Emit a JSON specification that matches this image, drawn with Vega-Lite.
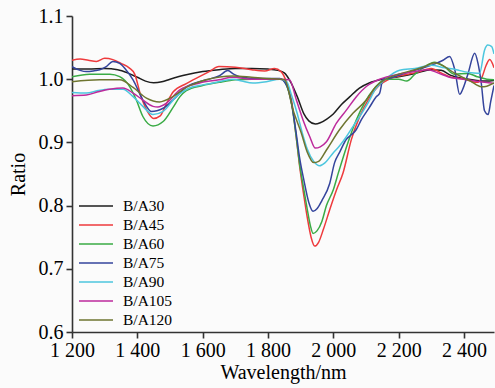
{
  "$schema": "https://vega.github.io/schema/vega-lite/v6.json",
  "width": 422,
  "height": 316,
  "autosize": {"type": "none"},
  "padding": {"left": 72, "top": 16, "right": 1, "bottom": 56},
  "background": "#fbfbfb",
  "config": {
    "view": {"stroke": null},
    "font": "Liberation Serif",
    "axis": {"grid": false, "domainColor": "#333333", "domainWidth": 1.6, "tickColor": "#333333", "tickWidth": 1.6, "tickSize": 6, "labelColor": "#000000", "titleColor": "#000000", "labelFont": "Liberation Serif", "titleFont": "Liberation Serif", "labelFontSize": 20, "titleFontSize": 20, "titleFontWeight": "normal"}
  },
  "data": {"values": [
    {"w":1200,"s":"B/A30","r":1.016},{"w":1250,"s":"B/A30","r":1.016},{"w":1300,"s":"B/A30","r":1.017},{"w":1340,"s":"B/A30","r":1.015},{"w":1370,"s":"B/A30","r":1.010},{"w":1400,"s":"B/A30","r":1.003},{"w":1425,"s":"B/A30","r":0.997},{"w":1450,"s":"B/A30","r":0.9945},{"w":1475,"s":"B/A30","r":0.996},{"w":1500,"s":"B/A30","r":1.000},{"w":1550,"s":"B/A30","r":1.007},{"w":1600,"s":"B/A30","r":1.012},{"w":1650,"s":"B/A30","r":1.015},{"w":1700,"s":"B/A30","r":1.017},{"w":1750,"s":"B/A30","r":1.017},{"w":1800,"s":"B/A30","r":1.016},{"w":1830,"s":"B/A30","r":1.014},{"w":1850,"s":"B/A30","r":1.010},{"w":1870,"s":"B/A30","r":0.995},{"w":1890,"s":"B/A30","r":0.972},{"w":1910,"s":"B/A30","r":0.945},{"w":1925,"s":"B/A30","r":0.934},{"w":1945,"s":"B/A30","r":0.929},{"w":1960,"s":"B/A30","r":0.931},{"w":1980,"s":"B/A30","r":0.937},{"w":2000,"s":"B/A30","r":0.945},{"w":2025,"s":"B/A30","r":0.960},{"w":2050,"s":"B/A30","r":0.972},{"w":2080,"s":"B/A30","r":0.986},{"w":2110,"s":"B/A30","r":0.994},{"w":2150,"s":"B/A30","r":1.000},{"w":2200,"s":"B/A30","r":1.004},{"w":2250,"s":"B/A30","r":1.009},{"w":2300,"s":"B/A30","r":1.015},{"w":2330,"s":"B/A30","r":1.014},{"w":2360,"s":"B/A30","r":1.006},{"w":2400,"s":"B/A30","r":1.001},{"w":2440,"s":"B/A30","r":0.998},{"w":2470,"s":"B/A30","r":0.997},{"w":2492,"s":"B/A30","r":0.998},

    {"w":1200,"s":"B/A45","r":1.030},{"w":1225,"s":"B/A45","r":1.032},{"w":1250,"s":"B/A45","r":1.030},{"w":1275,"s":"B/A45","r":1.028},{"w":1300,"s":"B/A45","r":1.033},{"w":1325,"s":"B/A45","r":1.031},{"w":1350,"s":"B/A45","r":1.025},{"w":1375,"s":"B/A45","r":1.018},{"w":1392,"s":"B/A45","r":1.008},{"w":1410,"s":"B/A45","r":0.975},{"w":1430,"s":"B/A45","r":0.950},{"w":1450,"s":"B/A45","r":0.938},{"w":1470,"s":"B/A45","r":0.942},{"w":1490,"s":"B/A45","r":0.962},{"w":1510,"s":"B/A45","r":0.980},{"w":1550,"s":"B/A45","r":0.993},{"w":1590,"s":"B/A45","r":1.004},{"w":1620,"s":"B/A45","r":1.012},{"w":1650,"s":"B/A45","r":1.020},{"w":1700,"s":"B/A45","r":1.019},{"w":1750,"s":"B/A45","r":1.015},{"w":1790,"s":"B/A45","r":1.013},{"w":1820,"s":"B/A45","r":1.017},{"w":1840,"s":"B/A45","r":1.012},{"w":1857,"s":"B/A45","r":0.995},{"w":1872,"s":"B/A45","r":0.967},{"w":1885,"s":"B/A45","r":0.915},{"w":1897,"s":"B/A45","r":0.862},{"w":1910,"s":"B/A45","r":0.815},{"w":1920,"s":"B/A45","r":0.782},{"w":1932,"s":"B/A45","r":0.750},{"w":1943,"s":"B/A45","r":0.736},{"w":1955,"s":"B/A45","r":0.742},{"w":1970,"s":"B/A45","r":0.763},{"w":1990,"s":"B/A45","r":0.795},{"w":2010,"s":"B/A45","r":0.825},{"w":2030,"s":"B/A45","r":0.852},{"w":2055,"s":"B/A45","r":0.904},{"w":2080,"s":"B/A45","r":0.940},{"w":2110,"s":"B/A45","r":0.970},{"w":2140,"s":"B/A45","r":0.990},{"w":2170,"s":"B/A45","r":1.000},{"w":2200,"s":"B/A45","r":1.005},{"w":2250,"s":"B/A45","r":1.010},{"w":2300,"s":"B/A45","r":1.017},{"w":2330,"s":"B/A45","r":1.010},{"w":2360,"s":"B/A45","r":1.003},{"w":2400,"s":"B/A45","r":1.000},{"w":2420,"s":"B/A45","r":0.997},{"w":2440,"s":"B/A45","r":0.995},{"w":2455,"s":"B/A45","r":1.003},{"w":2468,"s":"B/A45","r":1.022},{"w":2479,"s":"B/A45","r":1.031},{"w":2492,"s":"B/A45","r":1.018},

    {"w":1200,"s":"B/A60","r":1.004},{"w":1254,"s":"B/A60","r":1.008},{"w":1316,"s":"B/A60","r":1.008},{"w":1346,"s":"B/A60","r":1.004},{"w":1377,"s":"B/A60","r":0.988},{"w":1397,"s":"B/A60","r":0.967},{"w":1417,"s":"B/A60","r":0.941},{"w":1448,"s":"B/A60","r":0.926},{"w":1479,"s":"B/A60","r":0.933},{"w":1509,"s":"B/A60","r":0.955},{"w":1530,"s":"B/A60","r":0.972},{"w":1550,"s":"B/A60","r":0.982},{"w":1600,"s":"B/A60","r":0.990},{"w":1650,"s":"B/A60","r":0.995},{"w":1700,"s":"B/A60","r":0.999},{"w":1750,"s":"B/A60","r":1.000},{"w":1800,"s":"B/A60","r":1.000},{"w":1840,"s":"B/A60","r":1.000},{"w":1857,"s":"B/A60","r":0.990},{"w":1872,"s":"B/A60","r":0.962},{"w":1885,"s":"B/A60","r":0.915},{"w":1897,"s":"B/A60","r":0.865},{"w":1910,"s":"B/A60","r":0.825},{"w":1920,"s":"B/A60","r":0.795},{"w":1930,"s":"B/A60","r":0.768},{"w":1938,"s":"B/A60","r":0.756},{"w":1950,"s":"B/A60","r":0.760},{"w":1965,"s":"B/A60","r":0.775},{"w":1979,"s":"B/A60","r":0.800},{"w":2000,"s":"B/A60","r":0.825},{"w":2015,"s":"B/A60","r":0.851},{"w":2045,"s":"B/A60","r":0.900},{"w":2070,"s":"B/A60","r":0.935},{"w":2096,"s":"B/A60","r":0.963},{"w":2125,"s":"B/A60","r":0.985},{"w":2160,"s":"B/A60","r":1.000},{"w":2200,"s":"B/A60","r":1.000},{"w":2225,"s":"B/A60","r":0.997},{"w":2250,"s":"B/A60","r":1.008},{"w":2280,"s":"B/A60","r":1.020},{"w":2310,"s":"B/A60","r":1.027},{"w":2340,"s":"B/A60","r":1.020},{"w":2370,"s":"B/A60","r":1.008},{"w":2412,"s":"B/A60","r":1.009},{"w":2440,"s":"B/A60","r":1.004},{"w":2470,"s":"B/A60","r":1.000},{"w":2492,"s":"B/A60","r":0.999},

    {"w":1200,"s":"B/A75","r":1.020},{"w":1225,"s":"B/A75","r":1.014},{"w":1244,"s":"B/A75","r":1.012},{"w":1265,"s":"B/A75","r":1.013},{"w":1285,"s":"B/A75","r":1.015},{"w":1305,"s":"B/A75","r":1.020},{"w":1325,"s":"B/A75","r":1.028},{"w":1346,"s":"B/A75","r":1.025},{"w":1365,"s":"B/A75","r":1.015},{"w":1387,"s":"B/A75","r":0.999},{"w":1417,"s":"B/A75","r":0.967},{"w":1443,"s":"B/A75","r":0.949},{"w":1460,"s":"B/A75","r":0.950},{"w":1479,"s":"B/A75","r":0.954},{"w":1509,"s":"B/A75","r":0.967},{"w":1550,"s":"B/A75","r":0.988},{"w":1611,"s":"B/A75","r":0.999},{"w":1650,"s":"B/A75","r":1.005},{"w":1677,"s":"B/A75","r":1.0136},{"w":1695,"s":"B/A75","r":1.008},{"w":1713,"s":"B/A75","r":1.004},{"w":1775,"s":"B/A75","r":1.001},{"w":1836,"s":"B/A75","r":1.001},{"w":1857,"s":"B/A75","r":0.990},{"w":1872,"s":"B/A75","r":0.962},{"w":1885,"s":"B/A75","r":0.920},{"w":1897,"s":"B/A75","r":0.875},{"w":1910,"s":"B/A75","r":0.840},{"w":1925,"s":"B/A75","r":0.805},{"w":1938,"s":"B/A75","r":0.791},{"w":1950,"s":"B/A75","r":0.795},{"w":1965,"s":"B/A75","r":0.808},{"w":1989,"s":"B/A75","r":0.835},{"w":2004,"s":"B/A75","r":0.868},{"w":2020,"s":"B/A75","r":0.885},{"w":2040,"s":"B/A75","r":0.905},{"w":2055,"s":"B/A75","r":0.912},{"w":2070,"s":"B/A75","r":0.920},{"w":2086,"s":"B/A75","r":0.936},{"w":2110,"s":"B/A75","r":0.955},{"w":2132,"s":"B/A75","r":0.9725},{"w":2142,"s":"B/A75","r":0.978},{"w":2152,"s":"B/A75","r":1.000},{"w":2175,"s":"B/A75","r":1.002},{"w":2200,"s":"B/A75","r":1.006},{"w":2254,"s":"B/A75","r":1.015},{"w":2305,"s":"B/A75","r":1.023},{"w":2336,"s":"B/A75","r":1.030},{"w":2356,"s":"B/A75","r":1.036},{"w":2372,"s":"B/A75","r":1.015},{"w":2387,"s":"B/A75","r":0.976},{"w":2397,"s":"B/A75","r":0.985},{"w":2412,"s":"B/A75","r":1.008},{"w":2433,"s":"B/A75","r":1.041},{"w":2443,"s":"B/A75","r":1.025},{"w":2453,"s":"B/A75","r":0.994},{"w":2463,"s":"B/A75","r":0.950},{"w":2474,"s":"B/A75","r":0.944},{"w":2482,"s":"B/A75","r":0.965},{"w":2492,"s":"B/A75","r":0.990},

    {"w":1200,"s":"B/A90","r":0.979},{"w":1244,"s":"B/A90","r":0.978},{"w":1280,"s":"B/A90","r":0.982},{"w":1315,"s":"B/A90","r":0.984},{"w":1356,"s":"B/A90","r":0.984},{"w":1387,"s":"B/A90","r":0.9725},{"w":1417,"s":"B/A90","r":0.957},{"w":1448,"s":"B/A90","r":0.944},{"w":1479,"s":"B/A90","r":0.949},{"w":1519,"s":"B/A90","r":0.9725},{"w":1570,"s":"B/A90","r":0.988},{"w":1600,"s":"B/A90","r":0.991},{"w":1642,"s":"B/A90","r":0.995},{"w":1693,"s":"B/A90","r":1.000},{"w":1720,"s":"B/A90","r":0.997},{"w":1754,"s":"B/A90","r":0.994},{"w":1795,"s":"B/A90","r":0.996},{"w":1836,"s":"B/A90","r":1.000},{"w":1857,"s":"B/A90","r":0.996},{"w":1872,"s":"B/A90","r":0.975},{"w":1890,"s":"B/A90","r":0.945},{"w":1905,"s":"B/A90","r":0.915},{"w":1920,"s":"B/A90","r":0.890},{"w":1940,"s":"B/A90","r":0.870},{"w":1958,"s":"B/A90","r":0.863},{"w":1975,"s":"B/A90","r":0.868},{"w":1999,"s":"B/A90","r":0.883},{"w":2020,"s":"B/A90","r":0.895},{"w":2040,"s":"B/A90","r":0.909},{"w":2060,"s":"B/A90","r":0.925},{"w":2081,"s":"B/A90","r":0.941},{"w":2106,"s":"B/A90","r":0.962},{"w":2130,"s":"B/A90","r":0.985},{"w":2160,"s":"B/A90","r":1.000},{"w":2203,"s":"B/A90","r":1.014},{"w":2250,"s":"B/A90","r":1.017},{"w":2300,"s":"B/A90","r":1.022},{"w":2340,"s":"B/A90","r":1.018},{"w":2377,"s":"B/A90","r":1.015},{"w":2400,"s":"B/A90","r":1.012},{"w":2430,"s":"B/A90","r":1.010},{"w":2448,"s":"B/A90","r":1.0095},{"w":2463,"s":"B/A90","r":1.046},{"w":2473,"s":"B/A90","r":1.054},{"w":2485,"s":"B/A90","r":1.0515},{"w":2492,"s":"B/A90","r":1.040},

    {"w":1200,"s":"B/A105","r":0.974},{"w":1244,"s":"B/A105","r":0.975},{"w":1280,"s":"B/A105","r":0.980},{"w":1315,"s":"B/A105","r":0.984},{"w":1356,"s":"B/A105","r":0.986},{"w":1387,"s":"B/A105","r":0.978},{"w":1417,"s":"B/A105","r":0.967},{"w":1448,"s":"B/A105","r":0.957},{"w":1463,"s":"B/A105","r":0.956},{"w":1489,"s":"B/A105","r":0.962},{"w":1530,"s":"B/A105","r":0.983},{"w":1591,"s":"B/A105","r":0.994},{"w":1650,"s":"B/A105","r":0.999},{"w":1693,"s":"B/A105","r":1.003},{"w":1750,"s":"B/A105","r":1.000},{"w":1795,"s":"B/A105","r":1.000},{"w":1836,"s":"B/A105","r":1.000},{"w":1866,"s":"B/A105","r":0.999},{"w":1887,"s":"B/A105","r":0.967},{"w":1907,"s":"B/A105","r":0.936},{"w":1928,"s":"B/A105","r":0.909},{"w":1945,"s":"B/A105","r":0.891},{"w":1960,"s":"B/A105","r":0.893},{"w":1979,"s":"B/A105","r":0.901},{"w":2009,"s":"B/A105","r":0.930},{"w":2040,"s":"B/A105","r":0.951},{"w":2070,"s":"B/A105","r":0.972},{"w":2105,"s":"B/A105","r":0.990},{"w":2142,"s":"B/A105","r":1.000},{"w":2200,"s":"B/A105","r":1.008},{"w":2250,"s":"B/A105","r":1.012},{"w":2290,"s":"B/A105","r":1.015},{"w":2320,"s":"B/A105","r":1.010},{"w":2351,"s":"B/A105","r":1.004},{"w":2412,"s":"B/A105","r":0.999},{"w":2450,"s":"B/A105","r":0.996},{"w":2484,"s":"B/A105","r":0.994},{"w":2492,"s":"B/A105","r":0.993},

    {"w":1200,"s":"B/A120","r":0.996},{"w":1285,"s":"B/A120","r":0.999},{"w":1346,"s":"B/A120","r":0.999},{"w":1387,"s":"B/A120","r":0.987},{"w":1428,"s":"B/A120","r":0.970},{"w":1468,"s":"B/A120","r":0.964},{"w":1509,"s":"B/A120","r":0.9725},{"w":1550,"s":"B/A120","r":0.987},{"w":1611,"s":"B/A120","r":0.999},{"w":1693,"s":"B/A120","r":1.005},{"w":1750,"s":"B/A120","r":1.003},{"w":1795,"s":"B/A120","r":1.001},{"w":1836,"s":"B/A120","r":1.000},{"w":1851,"s":"B/A120","r":0.999},{"w":1877,"s":"B/A120","r":0.951},{"w":1902,"s":"B/A120","r":0.915},{"w":1920,"s":"B/A120","r":0.885},{"w":1940,"s":"B/A120","r":0.868},{"w":1955,"s":"B/A120","r":0.870},{"w":1979,"s":"B/A120","r":0.888},{"w":2019,"s":"B/A120","r":0.920},{"w":2060,"s":"B/A120","r":0.946},{"w":2101,"s":"B/A120","r":0.967},{"w":2130,"s":"B/A120","r":0.988},{"w":2160,"s":"B/A120","r":1.000},{"w":2200,"s":"B/A120","r":1.008},{"w":2250,"s":"B/A120","r":1.015},{"w":2280,"s":"B/A120","r":1.020},{"w":2310,"s":"B/A120","r":1.026},{"w":2340,"s":"B/A120","r":1.020},{"w":2370,"s":"B/A120","r":1.010},{"w":2392,"s":"B/A120","r":1.004},{"w":2420,"s":"B/A120","r":0.997},{"w":2453,"s":"B/A120","r":0.988},{"w":2470,"s":"B/A120","r":0.989},{"w":2492,"s":"B/A120","r":0.994}
  ]},
  "mark": {"type": "line", "strokeWidth": 1.5, "clip": true, "interpolate": "monotone"},
  "encoding": {
    "x": {"field": "w", "type": "quantitative", "scale": {"domain": [1200, 2492], "nice": false, "zero": false},
      "axis": {"title": "Wavelength/nm", "values": [1200, 1400, 1600, 1800, 2000, 2200, 2400], "labelExpr": "replace(format(datum.value, ',d'), ',', ' ')", "labelBaseline": "alphabetic", "labelPadding": 18, "titleBaseline": "alphabetic", "titleY": 46, "labelFlush": false, "labelOverlap": false}},
    "y": {"field": "r", "type": "quantitative", "scale": {"domain": [0.6, 1.1], "nice": false, "zero": false},
      "axis": {"title": "Ratio", "values": [0.6, 0.7, 0.8, 0.9, 1.0, 1.1], "format": ".1f", "labelPadding": 3, "titleBaseline": "alphabetic", "titleX": -48, "labelFlush": false, "labelOverlap": false}},
    "color": {"field": "s", "type": "nominal",
      "scale": {"domain": ["B/A30", "B/A45", "B/A60", "B/A75", "B/A90", "B/A105", "B/A120"], "range": ["#1e1e1e", "#ee3a3c", "#3aab45", "#34449c", "#4cc6de", "#bd2a9c", "#6e7530"]},
      "legend": {"title": null, "orient": "none", "legendX": 6, "legendY": 182, "symbolType": "stroke", "symbolSize": 1156, "symbolStrokeWidth": 1.5, "clipHeight": 16, "rowPadding": 2, "labelOffset": 9, "labelFont": "Liberation Serif", "labelFontSize": 15.5, "labelColor": "#000000", "padding": 0, "offset": 0}}
  }
}
